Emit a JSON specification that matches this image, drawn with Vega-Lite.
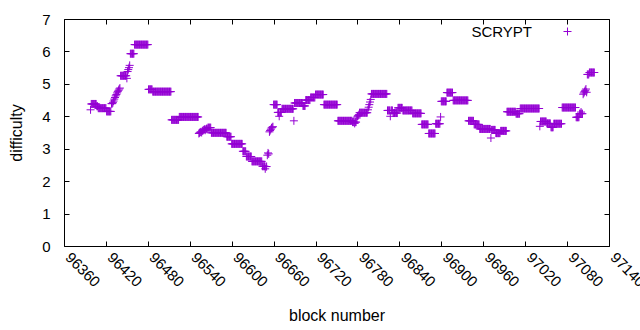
{
"$schema": "https://vega.github.io/schema/vega-lite/v6.json",
"width": 545, "height": 227,
"autosize": "none",
"padding": {"left": 64, "top": 19, "right": 31, "bottom": 84},
"background": "white",
"config": {
  "view": {"stroke": "black", "strokeWidth": 1},
  "font": "Liberation Sans",
  "axis": {"labelFont": "Liberation Sans", "labelFontSize": 15, "labelColor": "black", "titleFont": "Liberation Sans", "titleFontSize": 16, "titleFontWeight": "normal", "titleColor": "black", "tickColor": "black", "tickWidth": 1, "tickSize": -5, "grid": false, "domain": false}
},
"data": {"values": [
{"b":96398,"d":4.2},
{"b":96399,"d":4.38},{"b":96400,"d":4.38},{"b":96401,"d":4.38},{"b":96402,"d":4.38},{"b":96403,"d":4.38},{"b":96404,"d":4.38},{"b":96405,"d":4.38},{"b":96406,"d":4.38},
{"b":96407,"d":4.31},{"b":96408,"d":4.31},
{"b":96409,"d":4.25},{"b":96410,"d":4.25},{"b":96411,"d":4.25},{"b":96412,"d":4.25},{"b":96413,"d":4.25},{"b":96414,"d":4.25},{"b":96415,"d":4.25},{"b":96416,"d":4.25},{"b":96417,"d":4.25},{"b":96418,"d":4.25},{"b":96419,"d":4.25},{"b":96420,"d":4.25},
{"b":96421,"d":4.15},{"b":96422,"d":4.15},{"b":96423,"d":4.15},{"b":96424,"d":4.15},{"b":96425,"d":4.15},{"b":96426,"d":4.15},{"b":96427,"d":4.15},
{"b":96428,"d":4.39},{"b":96429,"d":4.39},{"b":96430,"d":4.42},{"b":96431,"d":4.47},{"b":96432,"d":4.53},{"b":96433,"d":4.58},{"b":96434,"d":4.63},{"b":96435,"d":4.67},{"b":96436,"d":4.72},{"b":96437,"d":4.76},{"b":96438,"d":4.8},{"b":96439,"d":4.84},{"b":96440,"d":4.87},
{"b":96441,"d":5.25},{"b":96442,"d":5.25},{"b":96443,"d":5.25},{"b":96444,"d":5.25},{"b":96445,"d":5.25},{"b":96446,"d":5.25},{"b":96447,"d":5.25},{"b":96448,"d":5.25},{"b":96449,"d":5.25},
{"b":96450,"d":5.17},{"b":96451,"d":5.38},{"b":96452,"d":5.44},{"b":96453,"d":5.5},{"b":96454,"d":5.57},
{"b":96455,"d":5.93},{"b":96456,"d":5.93},{"b":96457,"d":5.93},{"b":96458,"d":5.93},{"b":96459,"d":5.93},{"b":96460,"d":5.93},
{"b":96461,"d":6.21},{"b":96462,"d":6.21},{"b":96463,"d":6.21},{"b":96464,"d":6.21},{"b":96465,"d":6.21},{"b":96466,"d":6.21},{"b":96467,"d":6.21},{"b":96468,"d":6.21},{"b":96469,"d":6.21},{"b":96470,"d":6.21},{"b":96471,"d":6.21},{"b":96472,"d":6.21},{"b":96473,"d":6.21},{"b":96474,"d":6.21},{"b":96475,"d":6.21},{"b":96476,"d":6.21},{"b":96477,"d":6.21},{"b":96478,"d":6.21},{"b":96479,"d":6.21},{"b":96480,"d":6.21},
{"b":96481,"d":4.83},{"b":96482,"d":4.83},{"b":96483,"d":4.83},{"b":96484,"d":4.83},{"b":96485,"d":4.83},{"b":96486,"d":4.83},
{"b":96487,"d":4.76},{"b":96488,"d":4.76},{"b":96489,"d":4.76},{"b":96490,"d":4.76},{"b":96491,"d":4.76},{"b":96492,"d":4.76},{"b":96493,"d":4.76},{"b":96494,"d":4.76},{"b":96495,"d":4.76},{"b":96496,"d":4.76},{"b":96497,"d":4.76},{"b":96498,"d":4.76},{"b":96499,"d":4.76},{"b":96500,"d":4.76},{"b":96501,"d":4.76},{"b":96502,"d":4.76},{"b":96503,"d":4.76},{"b":96504,"d":4.76},{"b":96505,"d":4.76},{"b":96506,"d":4.76},{"b":96507,"d":4.76},{"b":96508,"d":4.76},{"b":96509,"d":4.76},{"b":96510,"d":4.76},{"b":96511,"d":4.76},{"b":96512,"d":4.76},{"b":96513,"d":4.76},
{"b":96514,"d":3.89},{"b":96515,"d":3.89},{"b":96516,"d":3.89},{"b":96517,"d":3.89},{"b":96518,"d":3.89},{"b":96519,"d":3.89},{"b":96520,"d":3.89},{"b":96521,"d":3.89},{"b":96522,"d":3.89},{"b":96523,"d":3.89},{"b":96524,"d":3.89},
{"b":96525,"d":3.98},{"b":96526,"d":3.98},{"b":96527,"d":3.98},{"b":96528,"d":3.98},{"b":96529,"d":3.98},{"b":96530,"d":3.98},{"b":96531,"d":3.98},{"b":96532,"d":3.98},{"b":96533,"d":3.98},{"b":96534,"d":3.98},{"b":96535,"d":3.98},{"b":96536,"d":3.98},{"b":96537,"d":3.98},{"b":96538,"d":3.98},{"b":96539,"d":3.98},{"b":96540,"d":3.98},{"b":96541,"d":3.98},{"b":96542,"d":3.98},{"b":96543,"d":3.98},{"b":96544,"d":3.98},{"b":96545,"d":3.98},{"b":96546,"d":3.98},{"b":96547,"d":3.98},{"b":96548,"d":3.98},{"b":96549,"d":3.98},{"b":96550,"d":3.98},{"b":96551,"d":3.98},{"b":96552,"d":3.98},
{"b":96553,"d":3.47},{"b":96554,"d":3.49},{"b":96555,"d":3.51},{"b":96556,"d":3.52},{"b":96557,"d":3.5},{"b":96558,"d":3.55},{"b":96559,"d":3.56},{"b":96560,"d":3.58},{"b":96561,"d":3.6},{"b":96562,"d":3.57},{"b":96563,"d":3.6},{"b":96564,"d":3.62},{"b":96565,"d":3.6},
{"b":96566,"d":3.65},{"b":96567,"d":3.65},{"b":96568,"d":3.65},{"b":96569,"d":3.65},{"b":96570,"d":3.65},
{"b":96571,"d":3.49},{"b":96572,"d":3.49},{"b":96573,"d":3.49},{"b":96574,"d":3.49},{"b":96575,"d":3.49},{"b":96576,"d":3.49},{"b":96577,"d":3.49},{"b":96578,"d":3.49},{"b":96579,"d":3.49},{"b":96580,"d":3.49},{"b":96581,"d":3.49},{"b":96582,"d":3.49},{"b":96583,"d":3.49},{"b":96584,"d":3.49},{"b":96585,"d":3.49},{"b":96586,"d":3.49},{"b":96587,"d":3.49},{"b":96588,"d":3.49},{"b":96589,"d":3.49},{"b":96590,"d":3.49},{"b":96591,"d":3.49},{"b":96592,"d":3.49},
{"b":96593,"d":3.37},{"b":96594,"d":3.37},{"b":96595,"d":3.37},{"b":96596,"d":3.37},{"b":96597,"d":3.37},{"b":96598,"d":3.37},{"b":96599,"d":3.37},
{"b":96600,"d":3.15},{"b":96601,"d":3.15},{"b":96602,"d":3.15},{"b":96603,"d":3.15},{"b":96604,"d":3.15},{"b":96605,"d":3.15},{"b":96606,"d":3.15},{"b":96607,"d":3.15},{"b":96608,"d":3.15},{"b":96609,"d":3.15},{"b":96610,"d":3.15},{"b":96611,"d":3.15},{"b":96612,"d":3.15},{"b":96613,"d":3.15},{"b":96614,"d":3.15},{"b":96615,"d":3.15},
{"b":96616,"d":2.92},{"b":96617,"d":2.92},{"b":96618,"d":2.92},{"b":96619,"d":2.92},{"b":96620,"d":2.92},
{"b":96621,"d":2.76},{"b":96622,"d":2.76},{"b":96623,"d":2.76},{"b":96624,"d":2.76},{"b":96625,"d":2.76},{"b":96626,"d":2.76},{"b":96627,"d":2.76},{"b":96628,"d":2.76},
{"b":96629,"d":2.61},{"b":96630,"d":2.61},{"b":96631,"d":2.61},{"b":96632,"d":2.61},{"b":96633,"d":2.61},{"b":96634,"d":2.61},{"b":96635,"d":2.61},{"b":96636,"d":2.61},{"b":96637,"d":2.61},{"b":96638,"d":2.61},{"b":96639,"d":2.61},{"b":96640,"d":2.61},{"b":96641,"d":2.61},{"b":96642,"d":2.61},{"b":96643,"d":2.61},
{"b":96644,"d":2.46},{"b":96645,"d":2.46},{"b":96646,"d":2.46},{"b":96647,"d":2.46},{"b":96648,"d":2.38},{"b":96649,"d":2.45},{"b":96650,"d":2.45},
{"b":96651,"d":2.8},{"b":96652,"d":2.87},{"b":96653,"d":2.84},
{"b":96654,"d":3.52},{"b":96655,"d":3.56},{"b":96656,"d":3.6},{"b":96657,"d":3.64},{"b":96658,"d":3.66},{"b":96659,"d":3.68},
{"b":96660,"d":4.36},{"b":96661,"d":4.36},{"b":96662,"d":4.36},{"b":96663,"d":4.36},{"b":96664,"d":4.36},{"b":96665,"d":4.36},
{"b":96666,"d":4.12},{"b":96667,"d":4.12},{"b":96668,"d":4.0},{"b":96669,"d":4.12},{"b":96670,"d":4.12},{"b":96671,"d":4.12},
{"b":96672,"d":4.23},{"b":96673,"d":4.23},{"b":96674,"d":4.23},{"b":96675,"d":4.23},{"b":96676,"d":4.23},{"b":96677,"d":4.23},{"b":96678,"d":4.23},{"b":96679,"d":4.23},{"b":96680,"d":4.23},{"b":96681,"d":4.23},{"b":96682,"d":4.23},{"b":96683,"d":4.23},{"b":96684,"d":4.23},{"b":96685,"d":4.23},{"b":96686,"d":4.23},{"b":96687,"d":4.23},{"b":96688,"d":4.23},
{"b":96689,"d":3.86},
{"b":96690,"d":4.41},{"b":96691,"d":4.41},{"b":96692,"d":4.41},{"b":96693,"d":4.41},{"b":96694,"d":4.41},{"b":96695,"d":4.41},{"b":96696,"d":4.41},{"b":96697,"d":4.41},{"b":96698,"d":4.41},{"b":96699,"d":4.41},{"b":96700,"d":4.41},{"b":96701,"d":4.41},
{"b":96702,"d":4.32},{"b":96703,"d":4.32},{"b":96704,"d":4.32},{"b":96705,"d":4.32},
{"b":96706,"d":4.5},{"b":96707,"d":4.5},{"b":96708,"d":4.5},{"b":96709,"d":4.5},{"b":96710,"d":4.5},{"b":96711,"d":4.5},{"b":96712,"d":4.5},
{"b":96713,"d":4.58},{"b":96714,"d":4.58},{"b":96715,"d":4.58},{"b":96716,"d":4.58},{"b":96717,"d":4.58},{"b":96718,"d":4.58},{"b":96719,"d":4.58},
{"b":96720,"d":4.67},{"b":96721,"d":4.67},{"b":96722,"d":4.67},{"b":96723,"d":4.67},{"b":96724,"d":4.67},{"b":96725,"d":4.67},{"b":96726,"d":4.67},{"b":96727,"d":4.67},{"b":96728,"d":4.67},{"b":96729,"d":4.67},{"b":96730,"d":4.67},{"b":96731,"d":4.67},
{"b":96732,"d":4.36},{"b":96733,"d":4.36},{"b":96734,"d":4.36},{"b":96735,"d":4.36},{"b":96736,"d":4.36},{"b":96737,"d":4.36},{"b":96738,"d":4.36},{"b":96739,"d":4.36},{"b":96740,"d":4.36},{"b":96741,"d":4.36},{"b":96742,"d":4.36},{"b":96743,"d":4.36},{"b":96744,"d":4.36},{"b":96745,"d":4.36},{"b":96746,"d":4.36},{"b":96747,"d":4.36},{"b":96748,"d":4.36},{"b":96749,"d":4.36},{"b":96750,"d":4.36},{"b":96751,"d":4.36},
{"b":96752,"d":3.86},{"b":96753,"d":3.86},{"b":96754,"d":3.86},{"b":96755,"d":3.86},{"b":96756,"d":3.86},{"b":96757,"d":3.86},{"b":96758,"d":3.86},{"b":96759,"d":3.86},{"b":96760,"d":3.86},{"b":96761,"d":3.86},{"b":96762,"d":3.86},{"b":96763,"d":3.86},{"b":96764,"d":3.86},{"b":96765,"d":3.86},{"b":96766,"d":3.86},{"b":96767,"d":3.86},{"b":96768,"d":3.86},{"b":96769,"d":3.86},{"b":96770,"d":3.86},{"b":96771,"d":3.86},{"b":96772,"d":3.86},
{"b":96773,"d":3.82},{"b":96774,"d":3.82},{"b":96775,"d":3.82},{"b":96776,"d":3.78},{"b":96777,"d":3.82},{"b":96778,"d":3.82},
{"b":96779,"d":3.95},{"b":96780,"d":4.0},{"b":96781,"d":4.02},{"b":96782,"d":4.05},
{"b":96783,"d":4.11},{"b":96784,"d":4.11},{"b":96785,"d":4.11},{"b":96786,"d":4.11},{"b":96787,"d":4.11},{"b":96788,"d":4.11},{"b":96789,"d":4.11},{"b":96790,"d":4.11},{"b":96791,"d":4.11},{"b":96792,"d":4.11},{"b":96793,"d":4.11},{"b":96794,"d":4.11},
{"b":96795,"d":4.2},{"b":96796,"d":4.28},{"b":96797,"d":4.36},{"b":96798,"d":4.44},{"b":96799,"d":4.52},
{"b":96800,"d":4.69},{"b":96801,"d":4.69},{"b":96802,"d":4.69},{"b":96803,"d":4.69},{"b":96804,"d":4.69},{"b":96805,"d":4.69},{"b":96806,"d":4.69},{"b":96807,"d":4.69},{"b":96808,"d":4.69},{"b":96809,"d":4.69},{"b":96810,"d":4.69},{"b":96811,"d":4.69},{"b":96812,"d":4.69},{"b":96813,"d":4.69},{"b":96814,"d":4.69},{"b":96815,"d":4.69},{"b":96816,"d":4.69},{"b":96817,"d":4.69},{"b":96818,"d":4.69},{"b":96819,"d":4.69},{"b":96820,"d":4.69},{"b":96821,"d":4.69},{"b":96822,"d":4.69},
{"b":96823,"d":4.18},{"b":96824,"d":4.18},{"b":96825,"d":4.18},{"b":96826,"d":4.18},{"b":96827,"d":4.0},{"b":96828,"d":4.18},{"b":96829,"d":4.18},{"b":96830,"d":4.18},
{"b":96831,"d":4.1},{"b":96832,"d":4.1},{"b":96833,"d":4.1},{"b":96834,"d":4.1},{"b":96835,"d":4.1},{"b":96836,"d":4.1},{"b":96837,"d":4.1},
{"b":96838,"d":4.26},{"b":96839,"d":4.26},{"b":96840,"d":4.26},{"b":96841,"d":4.26},{"b":96842,"d":4.26},{"b":96843,"d":4.26},{"b":96844,"d":4.26},
{"b":96845,"d":4.18},{"b":96846,"d":4.18},{"b":96847,"d":4.18},{"b":96848,"d":4.18},{"b":96849,"d":4.18},{"b":96850,"d":4.18},{"b":96851,"d":4.18},{"b":96852,"d":4.18},{"b":96853,"d":4.18},{"b":96854,"d":4.18},{"b":96855,"d":4.18},{"b":96856,"d":4.18},{"b":96857,"d":4.18},{"b":96858,"d":4.18},
{"b":96859,"d":4.09},{"b":96860,"d":4.09},{"b":96861,"d":4.09},{"b":96862,"d":4.09},{"b":96863,"d":4.09},{"b":96864,"d":4.09},{"b":96865,"d":4.09},{"b":96866,"d":4.09},{"b":96867,"d":4.09},{"b":96868,"d":4.09},{"b":96869,"d":4.09},{"b":96870,"d":4.09},{"b":96871,"d":4.09},
{"b":96872,"d":3.75},{"b":96873,"d":3.75},{"b":96874,"d":3.75},{"b":96875,"d":3.75},{"b":96876,"d":3.75},{"b":96877,"d":3.75},{"b":96878,"d":3.75},{"b":96879,"d":3.75},{"b":96880,"d":3.75},{"b":96881,"d":3.75},
{"b":96882,"d":3.47},{"b":96883,"d":3.47},{"b":96884,"d":3.47},{"b":96885,"d":3.47},{"b":96886,"d":3.47},{"b":96887,"d":3.47},{"b":96888,"d":3.47},{"b":96889,"d":3.47},{"b":96890,"d":3.47},{"b":96891,"d":3.47},
{"b":96892,"d":3.77},{"b":96893,"d":3.77},{"b":96894,"d":3.77},{"b":96895,"d":3.77},{"b":96896,"d":3.77},{"b":96897,"d":3.77},{"b":96898,"d":3.77},
{"b":96899,"d":3.98},
{"b":96900,"d":4.46},{"b":96901,"d":4.46},{"b":96902,"d":4.46},{"b":96903,"d":4.46},{"b":96904,"d":4.46},{"b":96905,"d":4.46},{"b":96906,"d":4.46},{"b":96907,"d":4.46},
{"b":96908,"d":4.73},{"b":96909,"d":4.73},{"b":96910,"d":4.73},{"b":96911,"d":4.73},{"b":96912,"d":4.73},{"b":96913,"d":4.73},{"b":96914,"d":4.73},{"b":96915,"d":4.73},{"b":96916,"d":4.73},
{"b":96917,"d":4.49},{"b":96918,"d":4.49},{"b":96919,"d":4.49},{"b":96920,"d":4.49},{"b":96921,"d":4.49},{"b":96922,"d":4.49},{"b":96923,"d":4.49},{"b":96924,"d":4.49},{"b":96925,"d":4.49},{"b":96926,"d":4.49},{"b":96927,"d":4.49},{"b":96928,"d":4.49},{"b":96929,"d":4.49},{"b":96930,"d":4.49},{"b":96931,"d":4.49},{"b":96932,"d":4.49},{"b":96933,"d":4.49},{"b":96934,"d":4.49},{"b":96935,"d":4.49},{"b":96936,"d":4.49},{"b":96937,"d":4.49},{"b":96938,"d":4.49},
{"b":96939,"d":3.86},{"b":96940,"d":3.86},{"b":96941,"d":3.86},{"b":96942,"d":3.86},{"b":96943,"d":3.86},{"b":96944,"d":3.86},{"b":96945,"d":3.86},{"b":96946,"d":3.86},
{"b":96947,"d":3.75},{"b":96948,"d":3.75},{"b":96949,"d":3.75},{"b":96950,"d":3.75},{"b":96951,"d":3.75},{"b":96952,"d":3.75},{"b":96953,"d":3.75},{"b":96954,"d":3.75},
{"b":96955,"d":3.61},{"b":96956,"d":3.61},{"b":96957,"d":3.61},{"b":96958,"d":3.61},{"b":96959,"d":3.61},{"b":96960,"d":3.61},{"b":96961,"d":3.61},{"b":96962,"d":3.61},{"b":96963,"d":3.61},{"b":96964,"d":3.61},{"b":96965,"d":3.61},{"b":96966,"d":3.61},{"b":96967,"d":3.61},{"b":96968,"d":3.61},{"b":96969,"d":3.61},{"b":96970,"d":3.61},
{"b":96971,"d":3.33},
{"b":96972,"d":3.58},{"b":96973,"d":3.58},{"b":96974,"d":3.58},{"b":96975,"d":3.58},{"b":96976,"d":3.58},{"b":96977,"d":3.58},
{"b":96978,"d":3.48},{"b":96979,"d":3.48},{"b":96980,"d":3.48},{"b":96981,"d":3.48},{"b":96982,"d":3.48},{"b":96983,"d":3.48},{"b":96984,"d":3.48},
{"b":96985,"d":3.55},{"b":96986,"d":3.55},{"b":96987,"d":3.55},{"b":96988,"d":3.55},{"b":96989,"d":3.55},{"b":96990,"d":3.55},{"b":96991,"d":3.55},{"b":96992,"d":3.55},{"b":96993,"d":3.55},
{"b":96994,"d":4.14},{"b":96995,"d":4.14},{"b":96996,"d":4.14},{"b":96997,"d":4.14},{"b":96998,"d":4.14},{"b":96999,"d":4.14},{"b":97000,"d":4.14},{"b":97001,"d":4.14},{"b":97002,"d":4.14},{"b":97003,"d":4.14},{"b":97004,"d":4.14},{"b":97005,"d":4.14},{"b":97006,"d":4.14},
{"b":97007,"d":4.08},{"b":97008,"d":4.08},{"b":97009,"d":4.08},{"b":97010,"d":4.08},{"b":97011,"d":4.08},{"b":97012,"d":4.08},
{"b":97013,"d":4.24},{"b":97014,"d":4.24},{"b":97015,"d":4.24},{"b":97016,"d":4.24},{"b":97017,"d":4.24},{"b":97018,"d":4.24},{"b":97019,"d":4.24},{"b":97020,"d":4.24},{"b":97021,"d":4.24},{"b":97022,"d":4.24},{"b":97023,"d":4.24},{"b":97024,"d":4.24},{"b":97025,"d":4.24},{"b":97026,"d":4.24},{"b":97027,"d":4.24},{"b":97028,"d":4.24},{"b":97029,"d":4.24},{"b":97030,"d":4.24},{"b":97031,"d":4.24},{"b":97032,"d":4.24},{"b":97033,"d":4.24},{"b":97034,"d":4.24},{"b":97035,"d":4.24},{"b":97036,"d":4.24},{"b":97037,"d":4.24},{"b":97038,"d":4.24},{"b":97039,"d":4.24},{"b":97040,"d":4.24},
{"b":97041,"d":3.69},
{"b":97042,"d":3.84},{"b":97043,"d":3.84},{"b":97044,"d":3.84},{"b":97045,"d":3.84},{"b":97046,"d":3.84},{"b":97047,"d":3.84},{"b":97048,"d":3.84},{"b":97049,"d":3.84},{"b":97050,"d":3.84},
{"b":97051,"d":3.78},{"b":97052,"d":3.78},{"b":97053,"d":3.78},{"b":97054,"d":3.78},{"b":97055,"d":3.78},{"b":97056,"d":3.78},
{"b":97057,"d":3.66},{"b":97058,"d":3.66},{"b":97059,"d":3.66},{"b":97060,"d":3.66},
{"b":97061,"d":3.77},{"b":97062,"d":3.77},{"b":97063,"d":3.77},{"b":97064,"d":3.77},{"b":97065,"d":3.77},{"b":97066,"d":3.77},{"b":97067,"d":3.77},{"b":97068,"d":3.77},{"b":97069,"d":3.77},{"b":97070,"d":3.77},{"b":97071,"d":3.77},{"b":97072,"d":3.77},
{"b":97073,"d":4.27},{"b":97074,"d":4.27},{"b":97075,"d":4.27},{"b":97076,"d":4.27},{"b":97077,"d":4.27},{"b":97078,"d":4.27},{"b":97079,"d":4.27},{"b":97080,"d":4.27},{"b":97081,"d":4.27},{"b":97082,"d":4.27},{"b":97083,"d":4.27},{"b":97084,"d":4.27},{"b":97085,"d":4.27},{"b":97086,"d":4.27},{"b":97087,"d":4.27},{"b":97088,"d":4.27},{"b":97089,"d":4.27},{"b":97090,"d":4.27},{"b":97091,"d":4.27},{"b":97092,"d":4.27},
{"b":97093,"d":3.97},{"b":97094,"d":3.97},{"b":97095,"d":3.97},{"b":97096,"d":3.97},{"b":97097,"d":3.97},
{"b":97098,"d":4.08},{"b":97099,"d":4.08},{"b":97100,"d":4.13},{"b":97101,"d":4.08},{"b":97102,"d":4.08},
{"b":97103,"d":4.68},{"b":97104,"d":4.72},{"b":97105,"d":4.76},{"b":97106,"d":4.8},{"b":97107,"d":4.84},{"b":97108,"d":4.74},
{"b":97109,"d":5.29},{"b":97110,"d":5.29},{"b":97111,"d":5.29},
{"b":97112,"d":5.35},{"b":97113,"d":5.35},{"b":97114,"d":5.35},{"b":97115,"d":5.35},{"b":97116,"d":5.35},{"b":97117,"d":5.35},{"b":97118,"d":5.35},{"b":97119,"d":5.35}
]},
"layer": [
  {
    "mark": {"type": "point", "shape": "M-1,0H1M0,-1V1", "size": 64, "filled": false, "strokeWidth": 1, "opacity": 1},
    "encoding": {
      "x": {"field": "b", "type": "quantitative", "scale": {"domain": [96360, 97140], "nice": false, "zero": false},
        "axis": {"orient": "bottom", "values": [96360,96420,96480,96540,96600,96660,96720,96780,96840,96900,96960,97020,97080,97140], "format": "d", "title": "block number", "labelAngle": 45, "labelAlign": "left", "labelBaseline": "alphabetic", "labelPadding": 17, "titlePadding": 18, "labelOverlap": false, "labelFlush": false}},
      "y": {"field": "d", "type": "quantitative", "scale": {"domain": [0, 7], "nice": false, "zero": true},
        "axis": {"orient": "left", "values": [0,1,2,3,4,5,6,7], "format": "d", "title": "difficulty", "labelPadding": 19, "titlePadding": 17}},
      "color": {"datum": "SCRYPT", "type": "nominal", "scale": {"range": ["#9400D3"]},
        "legend": {"orient": "none", "legendX": 496, "legendY": 5, "title": null, "padding": 0, "labelFont": "Liberation Sans", "labelFontSize": 15, "labelColor": "black", "labelAlign": "right", "labelOffset": -43, "symbolType": "M-1,0H1M0,-1V1", "symbolSize": 64, "symbolStrokeWidth": 1, "symbolStrokeColor": "#9400D3", "symbolFillColor": "transparent"}}
    }
  },
  {
    "mark": {"type": "point", "opacity": 0},
    "encoding": {
      "x": {"field": "b", "type": "quantitative", "scale": {"domain": [96360, 97140], "nice": false, "zero": false},
        "axis": {"orient": "top", "values": [96360,96420,96480,96540,96600,96660,96720,96780,96840,96900,96960,97020,97080,97140], "labels": false, "title": null}},
      "y": {"field": "d", "type": "quantitative", "scale": {"domain": [0, 7], "nice": false, "zero": true},
        "axis": {"orient": "right", "values": [0,1,2,3,4,5,6,7], "labels": false, "title": null}}
    }
  }
],
"resolve": {"scale": {"x": "independent", "y": "independent"}}
}
